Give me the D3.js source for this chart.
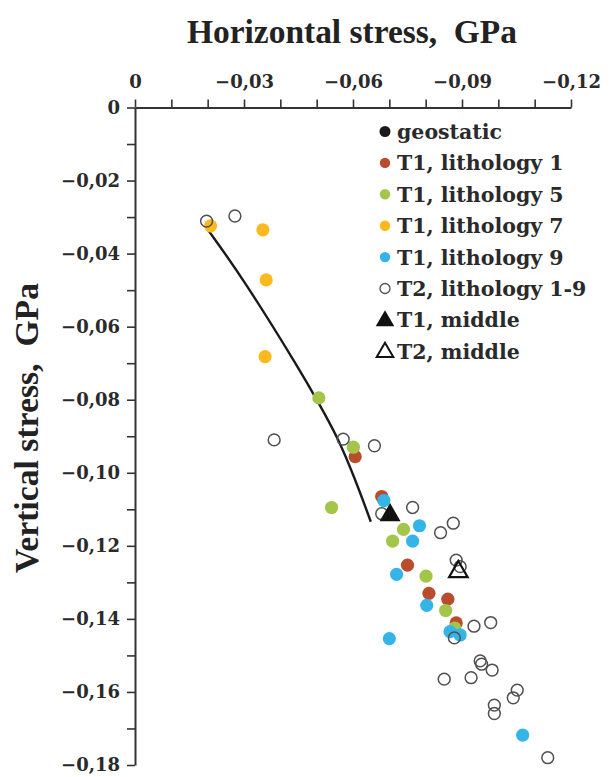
<!DOCTYPE html>
<html>
<head>
<meta charset="utf-8">
<script src="https://cdn.jsdelivr.net/npm/d3@7"></script>
<style>
  html, body { margin: 0; padding: 0; background: #fff; }
  svg { display: block; }
</style>
</head>
<body>
<svg id="chart" width="612" height="777"></svg>
<script>
// ---------- data (horizontal stress, vertical stress; GPa) ----------
const geostaticX = [-0.0201, -0.0300, -0.0454, -0.0506, -0.0557, -0.0607, -0.0649];
const geostaticY = [-0.0335, -0.0472, -0.0719, -0.0810, -0.0901, -0.1020, -0.1134];

const lith1X = [-0.0606, -0.0679, -0.0750, -0.0809, -0.0861, -0.0884];
const lith1Y = [-0.0956, -0.1065, -0.1253, -0.1330, -0.1346, -0.1411];

const lith5X = [-0.0506, -0.0601, -0.0541, -0.0739, -0.0709, -0.0801, -0.0880, -0.0855];
const lith5Y = [-0.0795, -0.0930, -0.1095, -0.1155, -0.1187, -0.1283, -0.1425, -0.1377];

const lith7X = [-0.0208, -0.0352, -0.0361, -0.0358];
const lith7Y = [-0.0324, -0.0335, -0.0472, -0.0682];

const lith9X = [-0.0685, -0.0783, -0.0764, -0.0720, -0.0803, -0.0867, -0.0895, -0.0700, -0.1067];
const lith9Y = [-0.1076, -0.1145, -0.1187, -0.1278, -0.1363, -0.1435, -0.1444, -0.1454, -0.1718];

const t2X = [-0.0197, -0.0275, -0.0383, -0.0573, -0.0659, -0.0679, -0.0764, -0.0841, -0.0876,
             -0.0884, -0.0895, -0.0933, -0.0979, -0.0879, -0.0950, -0.0954, -0.0983, -0.0851,
             -0.0925, -0.1052, -0.1041, -0.0989, -0.0989, -0.1136];
const t2Y = [-0.0311, -0.0297, -0.0910, -0.0908, -0.0926, -0.1112, -0.1095, -0.1164, -0.1138,
             -0.1239, -0.1257, -0.1420, -0.1410, -0.1452, -0.1515, -0.1524, -0.1540, -0.1565,
             -0.1561, -0.1595, -0.1616, -0.1636, -0.1659, -0.1780];

const t1MiddleX = [-0.0702];
const t1MiddleY = [-0.1116];
const t2MiddleX = [-0.0890];
const t2MiddleY = [-0.1271];

// ---------- axes ----------
const xMajorTicks = [0, -0.03, -0.06, -0.09, -0.12];
const xTickLabels = ["0", "\u22120,03", "\u22120,06", "\u22120,09", "\u22120,12"];
const yMajorTicks = [0, -0.02, -0.04, -0.06, -0.08, -0.10, -0.12, -0.14, -0.16, -0.18];
const yTickLabels = ["0", "\u22120,02", "\u22120,04", "\u22120,06", "\u22120,08", "\u22120,10",
                     "\u22120,12", "\u22120,14", "\u22120,16", "\u22120,18"];
const xTitle = "Horizontal stress,  GPa";
const yTitle = "Vertical stress,  GPa";

const legendLabels = ["geostatic", "T1, lithology 1", "T1, lithology 5", "T1, lithology 7",
                      "T1, lithology 9", "T2, lithology 1-9", "T1, middle", "T2, middle"];

// ---------- styles ----------
const C = { geo: "#1a1a1a", l1: "#b84c2d", l5: "#a3c64a", l7: "#fbb91e", l9: "#35b5e7", open: "#505050" };
const serifBold = "'DejaVu Serif', serif";
const titleFont = "'Liberation Serif', 'Times New Roman', serif";

const svg = d3.select("#chart");
const x = d3.scaleLinear().domain([0, -0.12]).range([135, 571]);
const y = d3.scaleLinear().domain([0, -0.18]).range([107.5, 765]);

const zip = (xs, ys) => xs.map((v, i) => [v, ys[i]]);
const near = (a, b) => Math.abs(a - b) < 1e-9;

// titles
svg.append("text")
  .attr("x", 352).attr("y", 42.5)
  .attr("text-anchor", "middle")
  .attr("font-family", titleFont).attr("font-weight", "bold")
  .attr("font-size", 34)
  .attr("textLength", 330).attr("lengthAdjust", "spacingAndGlyphs")
  .style("white-space", "pre").attr("fill", "#222")
  .text(xTitle);

svg.append("text")
  .attr("transform", "translate(38,428) rotate(-90)")
  .attr("text-anchor", "middle")
  .attr("font-family", titleFont).attr("font-weight", "bold")
  .attr("font-size", 34)
  .attr("textLength", 290).attr("lengthAdjust", "spacingAndGlyphs")
  .style("white-space", "pre").attr("fill", "#222")
  .text(yTitle);

// x axis (top)
const xAllTicks = d3.range(0, 13).map(i => -i / 100);
const xAxis = d3.axisTop(x)
  .tickValues(xAllTicks)
  .tickSize(8).tickSizeOuter(0).tickPadding(12)
  .tickFormat(d => { const k = xMajorTicks.findIndex(m => near(m, d)); return k >= 0 ? xTickLabels[k] : ""; });
const gx = svg.append("g").attr("transform", `translate(0,${y(0)})`).call(xAxis);

// y axis (left)
const yAllTicks = d3.range(0, 19).map(i => -i / 100);
const yAxis = d3.axisLeft(y)
  .tickValues(yAllTicks)
  .tickSize(8).tickSizeOuter(0).tickPadding(7)
  .tickFormat(d => { const k = yMajorTicks.findIndex(m => near(m, d)); return k >= 0 ? yTickLabels[k] : ""; });
const gy = svg.append("g").attr("transform", `translate(${x(0)},0)`).call(yAxis);

[gx, gy].forEach(g => {
  g.select(".domain").attr("stroke", "#333").attr("stroke-width", 2);
  g.selectAll(".tick line").attr("stroke", "#333").attr("stroke-width", 1.6);
  g.selectAll(".tick text").attr("font-family", serifBold).attr("font-weight", "bold")
    .attr("font-size", 18).attr("fill", "#2a2a2a");
});

// geostatic curve
svg.append("path")
  .datum(zip(geostaticX, geostaticY))
  .attr("fill", "none").attr("stroke", "#1a1a1a").attr("stroke-width", 2.4)
  .attr("d", d3.line().x(d => x(d[0])).y(d => y(d[1])).curve(d3.curveBasis));

// filled points
const R = 6.6;
function dots(xs, ys, color) {
  svg.append("g").selectAll("circle").data(zip(xs, ys)).join("circle")
    .attr("cx", d => x(d[0])).attr("cy", d => y(d[1])).attr("r", R)
    .attr("fill", color);
}
dots(lith1X, lith1Y, C.l1);
dots(lith5X, lith5Y, C.l5);
dots(lith7X, lith7Y, C.l7);
dots(lith9X, lith9Y, C.l9);

// open T2 circles
svg.append("g").selectAll("circle").data(zip(t2X, t2Y)).join("circle")
  .attr("cx", d => x(d[0])).attr("cy", d => y(d[1])).attr("r", R - 0.7)
  .attr("fill", "none").attr("stroke", C.open).attr("stroke-width", 1.5);

// triangles
svg.append("g").selectAll("path").data(zip(t1MiddleX, t1MiddleY)).join("path")
  .attr("transform", d => `translate(${x(d[0])},${y(d[1])})`)
  .attr("d", d3.symbol().type(d3.symbolTriangle).size(190)).attr("fill", "#111");
svg.append("g").selectAll("path").data(zip(t2MiddleX, t2MiddleY)).join("path")
  .attr("transform", d => `translate(${x(d[0])},${y(d[1])})`)
  .attr("d", d3.symbol().type(d3.symbolTriangle).size(150)).attr("fill", "none")
  .attr("stroke", "#111").attr("stroke-width", 2.2);

// legend
const legendKinds = ["geo", "l1", "l5", "l7", "l9", "open", "tri1", "tri2"];
const lg = svg.append("g");
const lx = 385, ly0 = 131.5, ldy = 31.4;
legendLabels.forEach((lab, i) => {
  const cy = ly0 + i * ldy;
  const k = legendKinds[i];
  if (k === "open") {
    lg.append("circle").attr("cx", lx).attr("cy", cy).attr("r", 5).attr("fill", "none")
      .attr("stroke", C.open).attr("stroke-width", 1.3);
  } else if (k === "tri1") {
    lg.append("path").attr("transform", `translate(${lx},${cy + 1})`)
      .attr("d", d3.symbol().type(d3.symbolTriangle).size(150)).attr("fill", "#111");
  } else if (k === "tri2") {
    lg.append("path").attr("transform", `translate(${lx},${cy + 1})`)
      .attr("d", d3.symbol().type(d3.symbolTriangle).size(120)).attr("fill", "none")
      .attr("stroke", "#111").attr("stroke-width", 2);
  } else {
    lg.append("circle").attr("cx", lx).attr("cy", cy).attr("r", k === "geo" ? 5.5 : 5.2).attr("fill", C[k]);
  }
  lg.append("text").attr("x", lx + 12).attr("y", cy + 7.5)
    .attr("font-family", serifBold).attr("font-weight", "bold").attr("font-size", 20.5)
    .attr("fill", "#2a2a2a").text(lab);
});
</script>
</body>
</html>
